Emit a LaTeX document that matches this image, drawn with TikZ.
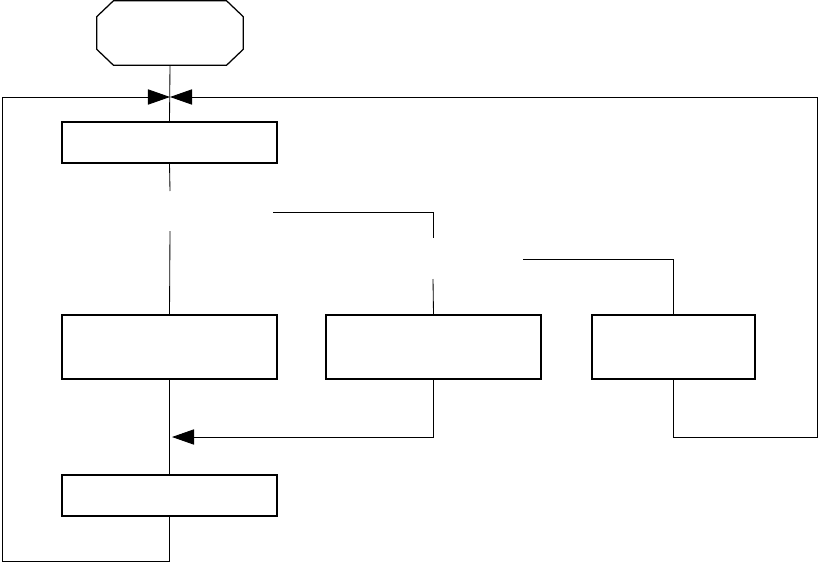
\documentclass[tikz,border=0pt]{standalone}
\usetikzlibrary{arrows.meta}
\tikzset{
  term/.style={minimum width=3.65cm,minimum height=1.6cm,inner sep=0pt},
  stepbox/.style={draw,line width=1.1pt,minimum width=5.375cm,inner sep=0pt},
  flat/.style={stepbox,minimum height=1.025cm},
  tall/.style={stepbox,minimum height=1.6cm},
  link/.style={line width=0.6pt},
  arr/.style={link,-{Triangle[length=0.55cm,width=0.38cm]}},
}
\begin{document}
\begin{tikzpicture}[x=0.025cm,y=-0.025cm]
  \useasboundingbox (0,0) rectangle (819,565);
  % nodes
  \node[term] (start) at (170,33) {};
  \draw[line width=0.9pt] ([xshift=0.42cm]start.north west)
    -- ([xshift=-0.42cm]start.north east) -- ([yshift=-0.4cm]start.north east)
    -- ([yshift=0.4cm]start.south east) -- ([xshift=-0.42cm]start.south east)
    -- ([xshift=0.42cm]start.south west) -- ([yshift=0.4cm]start.south west)
    -- ([yshift=-0.4cm]start.north west) -- cycle;
  \node[flat] (init) at (169.5,142.5) {};
  \node[tall] (caseA) at (169.5,347) {};
  \node[tall] (caseB) at (433.5,347) {};
  \node[tall,minimum width=4.075cm] (caseC) at (673.5,347) {};
  \node[flat] (update) at (169.5,495.5) {};
  % free ends
  \coordinate (join) at (170,97);
  \coordinate (d1top) at (170,191);
  \coordinate (d1bot) at (170,231);
  \coordinate (d1out) at (273,212);
  \coordinate (d2top) at (433,238);
  \coordinate (d2bot) at (433,279);
  \coordinate (d2out) at (523,259);
  \coordinate (merge) at (172,437);
  \coordinate (loopL) at (2,561);
  \coordinate (loopR) at (817,437);
  % connectors
  \draw[link] (start.south) -- (init.north);
  \draw[link] (init.south) -- (d1top);
  \draw[link] (d1bot) -- (caseA.north);
  \draw[link] (d1out) -| (d2top);
  \draw[link] (d2bot) -- (caseB.north);
  \draw[link] (d2out) -| (caseC.north);
  \draw[arr] (caseB.south) |- (merge);
  \draw[link] (caseA.south) -- (update.north);
  \draw[arr] (update.south) |- (loopL) |- (join);
  \draw[arr] (caseC.south) |- (loopR) |- (join);
\end{tikzpicture}
\end{document}
